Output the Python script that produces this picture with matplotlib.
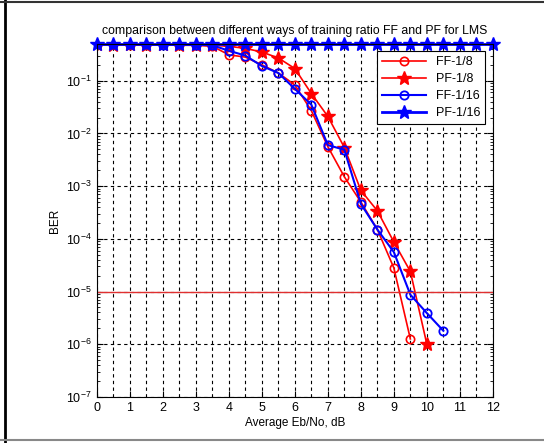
import matplotlib.pyplot as plt
import numpy as np
from matplotlib.lines import Line2D
from matplotlib.ticker import LogLocator, NullFormatter

plt.rcParams['font.family'] = ['Liberation Sans', 'DejaVu Sans']

# Eb/No axis points (dB)
ff8_x = [0, 0.5, 1, 1.5, 2, 2.5, 3, 3.5, 4, 4.5, 5, 5.5, 6, 6.5, 7, 7.5, 8, 8.5, 9, 9.5]
ff8_ber = [0.48, 0.49, 0.48, 0.47, 0.49, 0.47, 0.47, 0.45, 0.31, 0.28, 0.2, 0.14, 0.083, 0.027,
           5.6e-3, 1.5e-3, 5e-4, 1.5e-4, 2.8e-5, 1.26e-6]

pf8_x = [0, 0.5, 1, 1.5, 2, 2.5, 3, 3.5, 4, 4.5, 5, 5.5, 6, 6.5, 7, 7.5, 8, 8.5, 9, 9.5, 10]
pf8_ber = [0.49, 0.48, 0.49, 0.48, 0.49, 0.48, 0.48, 0.47, 0.45, 0.41, 0.35, 0.27, 0.17, 0.057,
           0.021, 5.4e-3, 8.3e-4, 3.4e-4, 8.7e-5, 2.4e-5, 1e-6]

ff16_x = [0, 0.5, 1, 1.5, 2, 2.5, 3, 3.5, 4, 4.5, 5, 5.5, 6, 6.5, 7, 7.5, 8, 8.5, 9, 9.5, 10, 10.5]
ff16_ber = [0.5, 0.49, 0.5, 0.49, 0.48, 0.49, 0.48, 0.47, 0.37, 0.3, 0.19, 0.14, 0.07, 0.035,
            6e-3, 4.9e-3, 4.6e-4, 1.5e-4, 5.6e-5, 8.7e-6, 3.9e-6, 1.8e-6]

pf16_x = [0, 0.5, 1, 1.5, 2, 2.5, 3, 3.5, 4, 4.5, 5, 5.5, 6, 6.5, 7, 7.5, 8, 8.5, 9, 9.5, 10,
          10.5, 11, 11.5, 12]
pf16_ber = [0.5] * 25

ref_ber = 1e-5

fig = plt.figure(figsize=(5.44, 4.43), dpi=100)
ax = fig.add_axes([0.178, 0.104, 0.728, 0.797])

ax.plot(ff8_x, ff8_ber, color='red', lw=1.2, marker='o', ms=6, mfc='none', mew=1.2, label='FF-1/8')
ax.plot(pf8_x, pf8_ber, color='red', lw=1.2, marker='*', ms=10, label='PF-1/8')
ax.plot(ff16_x, ff16_ber, color='blue', lw=1.5, marker='o', ms=6, mfc='none', mew=1.3, label='FF-1/16')
ax.plot(pf16_x, pf16_ber, color='blue', lw=2, marker='*', ms=10, label='PF-1/16', clip_on=False)
ax.axhline(ref_ber, color='#e03030', lw=1)

ax.set_yscale('log')
ax.set_xlim(0, 12)
ax.set_ylim(1e-7, 0.5)
ax.set_xticks(np.arange(0, 13, 1))
ax.set_xticks(np.arange(0, 12.5, 0.5), minor=True)
ax.yaxis.set_major_locator(LogLocator(base=10, numticks=20))
ax.yaxis.set_minor_locator(LogLocator(base=10, subs=np.arange(2, 10), numticks=20))
ax.yaxis.set_minor_formatter(NullFormatter())
ax.tick_params(which='both', direction='in', top=True, right=True, labelsize=9)
ax.tick_params(which='major', length=4)
ax.tick_params(which='minor', length=2)
ax.tick_params(axis='x', which='minor', length=0)
ax.grid(True, which='major', axis='y', ls='--', color='black', lw=0.8, dashes=(3, 3))
ax.grid(True, which='both', axis='x', ls='--', color='black', lw=0.8, dashes=(3, 3))

ax.set_xlabel('Average Eb/No, dB', fontsize=8.5, labelpad=2)
ax.set_ylabel('BER', fontsize=8.5)
ax.set_title('comparison between different ways of training ratio FF and PF for LMS', fontsize=8.8, pad=7)

leg = ax.legend(loc='upper right', fontsize=9, handlelength=3.5, borderaxespad=0.6,
                fancybox=False, framealpha=1, edgecolor='black', labelspacing=0.4)
leg.get_frame().set_linewidth(0.8)

# outer frame of the picture
fig.add_artist(Line2D([0.01, 0.01], [0.0, 1.0], transform=fig.transFigure, color='black', lw=2))
fig.add_artist(Line2D([0.0, 1.0], [0.995, 0.995], transform=fig.transFigure, color='#333333', lw=1.5))
fig.add_artist(Line2D([0.0, 1.0], [0.006, 0.006], transform=fig.transFigure, color='#888888', lw=1.5))

fig.savefig('out.png', dpi=100)
